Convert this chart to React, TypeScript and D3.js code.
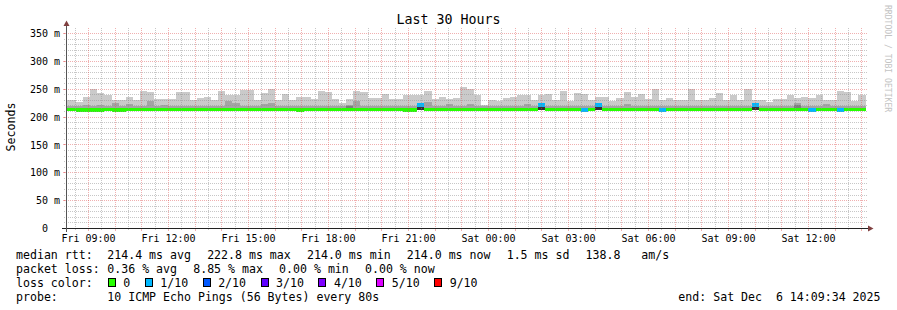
import React from "react";
import * as d3 from "d3";

const title = "Last 30 Hours";
const yAxisTitle = "Seconds";
const watermark = "RRDTOOL / TOBI OETIKER";

const startTime = Date.UTC(2025, 11, 5, 8, 9, 34);
const endTime = Date.UTC(2025, 11, 6, 14, 9, 34);
const firstBinStart = Date.UTC(2025, 11, 5, 8, 0, 0);
const binMinutes = 16;
const yAxisMax = 359;
const yMajorStep = 50;
const yMinorStep = 10;
const smokeFloor = 212.4;

// top of the lightest smoke band (max ping), ms
const smokeMax = [
  230.7, 230.7, 227.1, 236.0, 251.0, 243.8, 240.2, 230.1, 230.1, 236.0,
  230.1, 246.8, 245.0, 231.9, 231.9, 231.9, 245.0, 245.0, 231.3, 234.8,
  236.0, 230.1, 246.8, 240.2, 239.0, 248.6, 248.6, 231.3, 243.2, 251.0,
  230.1, 241.4, 230.1, 236.0, 236.0, 231.9, 246.8, 245.0, 231.9, 225.9,
  231.9, 246.8, 245.0, 234.8, 234.8, 241.4, 233.0, 231.9, 240.2, 239.0,
  240.2, 246.8, 231.9, 236.0, 231.9, 234.2, 254.0, 251.0, 239.0, 221.1,
  230.1, 228.9, 234.2, 236.0, 239.0, 239.0, 230.1, 239.0, 241.4, 230.1,
  246.8, 228.9, 243.2, 241.4, 230.1, 236.0, 236.0, 228.9, 234.2, 245.0,
  236.0, 241.4, 233.0, 249.8, 230.1, 234.2, 230.1, 230.1, 249.8, 230.1,
  230.1, 234.8, 243.2, 230.1, 239.0, 230.1, 249.8, 230.1, 230.1, 227.1,
  231.9, 231.9, 239.0, 234.2, 236.0, 234.2, 239.0, 230.1, 230.1, 246.8,
  245.0, 228.9, 239.0, 239.0,
];

// top of the second smoke band, ms
const smokeMid = [
  220.5, 220.5, 220.5, 221.5, 220.5, 222.3, 220.5, 225.3, 220.5, 223.5,
  220.5, 220.5, 228.9, 220.5, 222.3, 220.5, 220.5, 220.5, 220.5, 220.5,
  220.5, 220.5, 220.5, 228.9, 225.3, 220.5, 220.5, 220.5, 223.5, 225.3,
  220.5, 220.5, 220.5, 220.5, 220.5, 220.5, 220.5, 220.5, 220.5, 220.5,
  222.0, 228.9, 220.5, 220.5, 220.5, 220.5, 220.5, 220.5, 220.5, 220.5,
  220.5, 227.1, 220.5, 220.5, 223.5, 220.5, 220.5, 223.5, 220.5, 220.5,
  220.5, 220.5, 220.5, 220.5, 220.5, 223.5, 220.5, 220.5, 220.5, 220.5,
  220.5, 220.5, 220.5, 220.5, 220.5, 220.5, 220.5, 220.5, 220.5, 223.5,
  220.5, 220.5, 220.5, 220.5, 220.5, 220.5, 220.5, 220.5, 220.5, 220.5,
  220.5, 220.5, 220.5, 220.5, 220.5, 220.5, 220.5, 220.5, 220.5, 220.5,
  220.5, 220.5, 220.5, 225.3, 220.5, 220.5, 220.5, 223.5, 220.5, 220.5,
  220.5, 220.5, 220.5, 220.5,
];

// top of the third smoke band (mostly absent)
const smokeInner: (number | null)[] = smokeMax.map(() => null);
smokeInner[40] = 220.5;
smokeInner[103] = 222.0;

// median rtt, ms
const medianRtt = [
  214.0, 214.0, 212.4, 212.4, 212.4, 212.4, 214.0, 212.4, 212.4, 214.0,
  214.0, 214.0, 214.0, 214.0, 214.0, 214.0, 214.0, 214.0, 214.0, 214.0,
  214.0, 214.0, 214.0, 214.0, 214.0, 214.0, 214.0, 214.0, 214.0, 214.0,
  214.0, 214.0, 214.0, 212.4, 214.0, 214.0, 214.0, 214.0, 214.0, 214.0,
  214.0, 214.0, 214.0, 214.0, 214.0, 214.0, 214.0, 214.0, 212.4, 212.4,
  221.5, 214.0, 214.0, 214.0, 214.0, 214.0, 214.0, 214.0, 214.0, 214.0,
  214.0, 214.0, 214.0, 214.0, 214.0, 214.0, 214.0, 221.5, 214.0, 214.0,
  214.0, 214.0, 214.0, 213.0, 214.0, 221.5, 214.0, 214.0, 214.0, 214.0,
  214.0, 214.0, 214.0, 214.0, 213.0, 214.0, 214.0, 214.0, 214.0, 214.0,
  214.0, 214.0, 214.0, 214.0, 214.0, 214.0, 214.0, 221.5, 214.0, 214.0,
  214.0, 214.0, 214.0, 214.0, 214.0, 213.0, 214.0, 214.0, 214.0, 213.0,
  214.0, 214.0, 214.0, 214.0,
];

// lost pings out of 10 per bin
const lossCount = [
  0, 0, 0, 0, 0, 0, 0, 0, 0, 0,
  0, 0, 0, 0, 0, 0, 0, 0, 0, 0,
  0, 0, 0, 0, 0, 0, 0, 0, 0, 0,
  0, 0, 0, 0, 0, 0, 0, 0, 0, 0,
  0, 0, 0, 0, 0, 0, 0, 0, 0, 0,
  1, 0, 0, 0, 0, 0, 0, 0, 0, 0,
  0, 0, 0, 0, 0, 0, 0, 1, 0, 0,
  0, 0, 0, 1, 0, 1, 0, 0, 0, 0,
  0, 0, 0, 0, 1, 0, 0, 0, 0, 0,
  0, 0, 0, 0, 0, 0, 0, 1, 0, 0,
  0, 0, 0, 0, 0, 1, 0, 0, 0, 1,
  0, 0, 0, 0,
];

const lossLabels = ["0", "1/10", "2/10", "3/10", "4/10", "5/10", "9/10"];
const lossThresholds = [0, 1, 2, 3, 4, 5, 9];
const lossColors = ["#26ff00", "#00b8ff", "#0059ff", "#5e00ff", "#7e00ff", "#dd00ff", "#ff0000"];
const smokeColors = ["#cacaca", "#a4a4a4", "#7e7e7e", "#585858", "#323232"];

const rttLabel = "median rtt:";
const rttItems = ["214.4 ms avg", "222.8 ms max", "214.0 ms min", "214.0 ms now", "1.5 ms sd", "138.8   am/s"];
const lossLabel = "packet loss:";
const lossItems = ["0.36 % avg", "8.85 % max", "0.00 % min", "0.00 % now"];
const colorLabel = "loss color:";
const probeLabel = "probe:";
const probeItems = ["10 ICMP Echo Pings (56 Bytes) every 80s"];
const endLabel = "end: Sat Dec  6 14:09:34 2025";

const W = 897;
const H = 310;
const plotLeft = 66;
const plotRight = 866;
const plotTop = 28;
const plotBottom = 228;
const mono = "'DejaVu Sans Mono', monospace";
const legendFont = 11.58;
const charW = 6.97;
const itemGap = 16.2;
const col1 = 107.3;
const gridColor = "rgba(143,143,143,0.5)";
const mgridColor = "rgba(222,79,79,0.45)";
const arrowColor = "#804040";

function lossIndex(c: number) {
  let j = 0;
  lossThresholds.forEach((t, i) => { if (c >= t) j = i; });
  return j;
}

function layoutItems(items: string[]) {
  let xx = col1;
  return items.map((s) => {
    const r = { s, x: xx };
    xx += s.length * charW + itemGap;
    return r;
  });
}

export default function App() {
  const x = d3.scaleUtc().domain([new Date(startTime), new Date(endTime)]).range([plotLeft, plotRight]);
  const y = d3.scaleLinear().domain([0, yAxisMax]).range([plotBottom + 0.5, plotTop + 0.5]);
  const snap = (v: number) => Math.floor(v) + 0.5;
  const binMs = binMinutes * 60000;

  const bins = smokeMax.map((mx, i) => {
    const t0 = firstBinStart + i * binMs;
    const t1 = t0 + binMs;
    const x0 = Math.max(plotLeft, x(new Date(t0)));
    const x1 = Math.min(plotRight, x(new Date(t1)));
    return { i, x0, x1, max: mx, mid: smokeMid[i], inner: smokeInner[i], median: medianRtt[i], loss: lossCount[i] };
  }).filter((b) => b.x1 > b.x0);

  const s = new Date(startTime), e = new Date(endTime);
  const hourTicks = d3.utcHour.every(1)!.range(s, e);
  const halfTicks = d3.utcMinute.every(30)!.range(s, e).filter((d) => d.getUTCMinutes() === 30);
  const labelTicks = d3.utcHour.every(3)!.range(s, e);
  const fmt = d3.utcFormat("%a %H:%M");

  const yMajor = d3.range(0, yAxisMax, yMajorStep);
  const yMinor = d3.range(yMinorStep, yAxisMax, yMinorStep).filter((v) => v % yMajorStep !== 0);

  const rect = (b: any, lo: number, hi: number, fill: string, key: string) => (
    <rect key={key} x={b.x0} width={b.x1 - b.x0} y={y(hi)} height={y(lo) - y(hi)} fill={fill} shapeRendering="crispEdges" />
  );

  const row1 = layoutItems(rttItems);
  const row2 = layoutItems(lossItems);
  const row4 = layoutItems(probeItems);
  let sx = 108.3;
  const swatches = lossLabels.map((l, i) => {
    const r = { l, x: sx, c: lossColors[i] };
    sx += 30 + l.length * charW;
    return r;
  });
  const base = [258.8, 272.9, 287.0, 301.2];

  return (
    <div>
      <style>{`body{margin:0;background:#fff}`}</style>
      <svg width={W} height={H} style={{ display: "block", background: "#fff" }} fontFamily={mono}>
        <defs>
          <clipPath id="plot">
            <rect x={plotLeft} y={plotTop} width={plotRight - plotLeft} height={plotBottom - plotTop + 1} />
          </clipPath>
        </defs>
        <g clipPath="url(#plot)">
          {bins.map((b) => rect(b, smokeFloor, b.max, smokeColors[0], `a${b.i}`))}
          {bins.map((b) => rect(b, smokeFloor, b.mid, smokeColors[1], `b${b.i}`))}
          {bins.filter((b) => b.inner != null).map((b) => rect(b, smokeFloor, b.inner as number, smokeColors[2], `c${b.i}`))}
          {bins.filter((b) => b.loss > 0).map((b) => rect(b, smokeFloor, b.median, smokeColors[4], `d${b.i}`))}
          {bins.map((b) => (
            <rect key={`m${b.i}`} x={b.x0} width={b.x1 - b.x0} y={y(b.median) - 1.7} height={3.4}
              fill={lossColors[lossIndex(b.loss)]} shapeRendering="crispEdges" />
          ))}
        </g>

        {/* grid */}
        <g fill="none" strokeWidth={1}>
          {yMinor.map((v) => (
            <line key={`ym${v}`} x1={plotLeft - 2} x2={plotRight + 2} y1={snap(y(v))} y2={snap(y(v))} stroke={gridColor} strokeDasharray="1,1" />
          ))}
          {yMajor.filter((v) => v > 0).map((v) => (
            <line key={`yM${v}`} x1={plotLeft - 2} x2={plotRight + 2} y1={snap(y(v))} y2={snap(y(v))} stroke={mgridColor} strokeDasharray="1,1" />
          ))}
          {yMajor.filter((v) => v > 0).map((v) => (
            <line key={`yt${v}`} x1={plotLeft - 3} x2={plotLeft} y1={snap(y(v))} y2={snap(y(v))} stroke={mgridColor} />
          ))}
          {halfTicks.map((d) => (
            <g key={`xm${+d}`}>
              <line x1={snap(x(d))} x2={snap(x(d))} y1={plotTop} y2={plotBottom} stroke={gridColor} strokeDasharray="1,1" />
              <line x1={snap(x(d))} x2={snap(x(d))} y1={plotBottom} y2={plotBottom + 2} stroke={gridColor} />
            </g>
          ))}
          {hourTicks.map((d) => (
            <g key={`xM${+d}`}>
              <line x1={snap(x(d))} x2={snap(x(d))} y1={plotTop} y2={plotBottom} stroke={mgridColor} strokeDasharray="1,1" />
              <line x1={snap(x(d))} x2={snap(x(d))} y1={plotBottom} y2={plotBottom + 3} stroke={mgridColor} />
            </g>
          ))}
        </g>

        {/* axes */}
        <line x1={plotLeft - 4} x2={plotRight + 4} y1={plotBottom + 0.5} y2={plotBottom + 0.5} stroke="#222" strokeWidth={1} />
        <line x1={plotLeft + 0.5} x2={plotLeft + 0.5} y1={plotBottom + 4} y2={plotTop - 4} stroke="#555" strokeWidth={1} />
        <polygon points={`${plotRight + 2},${plotBottom - 2.5} ${plotRight + 2},${plotBottom + 3.5} ${plotRight + 7.5},${plotBottom + 0.5}`} fill={arrowColor} />
        <polygon points={`${plotLeft - 2.5},${plotTop - 2} ${plotLeft + 3.5},${plotTop - 2} ${plotLeft + 0.5},${plotTop - 7.5}`} fill={arrowColor} />

        {/* axis labels */}
        <g fontSize={10} fill="#000">
          {yMajor.map((v) => (
            <text key={`yl${v}`} x={v === 0 ? 60 - 2 * 6.02 : 60} y={y(v) + 3.6} textAnchor="end">
              {v === 0 ? "0" : `${v} m`}
            </text>
          ))}
          {labelTicks.map((d) => (
            <text key={`xl${+d}`} x={snap(x(d))} y={241.5} textAnchor="middle">{fmt(d)}</text>
          ))}
        </g>

        <text x={448.5} y={24.3} textAnchor="middle" fontSize={13.3} fill="#000">{title}</text>
        <text transform={`translate(14.5,127) rotate(-90)`} textAnchor="middle" fontSize={legendFont} fill="#000">{yAxisTitle}</text>
        <text transform={`translate(885,5) rotate(90)`} fontSize={8.1} fill="#c3c3c3">{watermark}</text>

        {/* legend */}
        <g fontSize={legendFont} fill="#000">
          <text x={16} y={base[0]}>{rttLabel}</text>
          {row1.map((r) => <text key={r.s} x={r.x} y={base[0]} xmlSpace="preserve">{r.s}</text>)}
          <text x={16} y={base[1]}>{lossLabel}</text>
          {row2.map((r) => <text key={r.s} x={r.x} y={base[1]} xmlSpace="preserve">{r.s}</text>)}
          <text x={16} y={base[2]}>{colorLabel}</text>
          {swatches.map((w) => (
            <g key={w.l}>
              <rect x={Math.floor(w.x) + 0.5} y={278.5} width={7} height={8} fill={w.c} stroke="#000" strokeWidth={1} />
              <text x={w.x + 15} y={base[2]}>{w.l}</text>
            </g>
          ))}
          <text x={16} y={base[3]}>{probeLabel}</text>
          {row4.map((r) => <text key={r.s} x={r.x} y={base[3]} xmlSpace="preserve">{r.s}</text>)}
          <text x={880.5} y={base[3]} textAnchor="end" xmlSpace="preserve">{endLabel}</text>
        </g>
      </svg>
    </div>
  );
}
